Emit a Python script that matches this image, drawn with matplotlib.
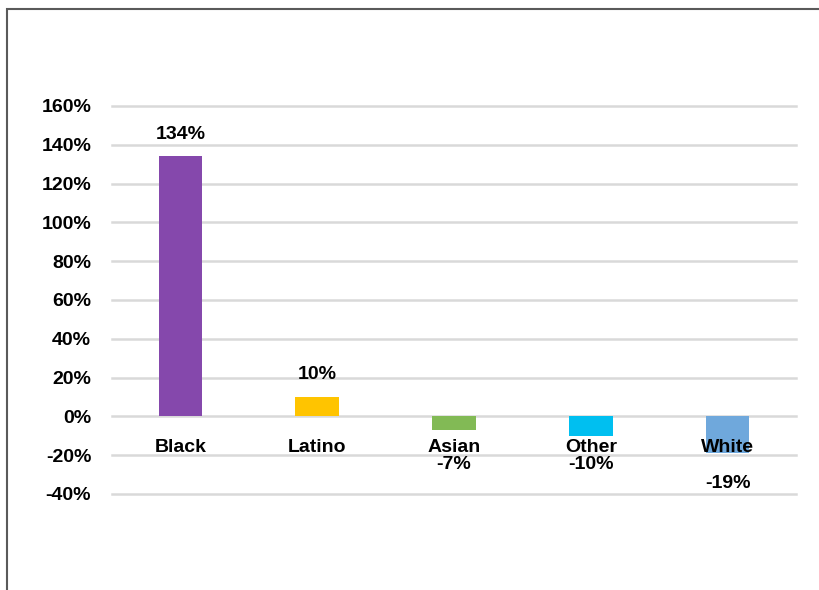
import matplotlib.pyplot as plt
from matplotlib.patches import Rectangle
from matplotlib.ticker import FuncFormatter

categories = ["Black", "Latino", "Asian", "Other", "White"]
values = [134, 10, -7, -10, -19]
value_labels = ["134%", "10%", "-7%", "-10%", "-19%"]
colors = ["#8548AC", "#FFC400", "#82BA55", "#00BFF0", "#6FA8DC"]
label_offsets = [16, 16, -25, -21, -21.5]  # points, from bar end
yticks = list(range(-40, 161, 20))

plt.rcParams["font.family"] = ["Liberation Sans Narrow", "Liberation Sans", "DejaVu Sans"]
plt.rcParams["font.weight"] = "bold"

fig = plt.figure(figsize=(8.2, 5.9), dpi=100)
ax = fig.add_axes([112 / 820, 1 - 494 / 590, 684 / 820, 388 / 590])

x = range(len(categories))
ax.bar(x, values, width=0.32, color=colors, zorder=2)
ax.set_xlim(-0.5, len(categories) - 0.5)
ax.set_ylim(-40, 160)
ax.set_yticks(yticks)
ax.yaxis.set_major_formatter(FuncFormatter(lambda v, _: f"{v:.0f}%"))
ax.tick_params(axis="y", length=0, pad=15, labelsize=14)
ax.set_xticks([])
ax.grid(axis="y", color="#D9D9D9", lw=1.8, zorder=0)
for gl in ax.get_ygridlines():
    gl.set_clip_on(False)
for s in ax.spines.values():
    s.set_visible(False)

for i, (v, lab, off) in enumerate(zip(values, value_labels, label_offsets)):
    ax.annotate(lab, (i, v), xytext=(0, off), textcoords="offset points",
                ha="center", va="center", fontsize=14, fontweight="bold", zorder=3)
    ax.annotate(categories[i], (i, 0), xytext=(0, -22.5), textcoords="offset points",
                ha="center", va="center", fontsize=14, fontweight="bold", zorder=3)

# outer frame
fig.patches.append(Rectangle((7 / 820, -0.05), 1.1, 1 - 9 / 590 + 0.05,
                             transform=fig.transFigure, fill=False,
                             edgecolor="#5A5A5A", lw=1.5))

fig.savefig("out.png", dpi=100)
